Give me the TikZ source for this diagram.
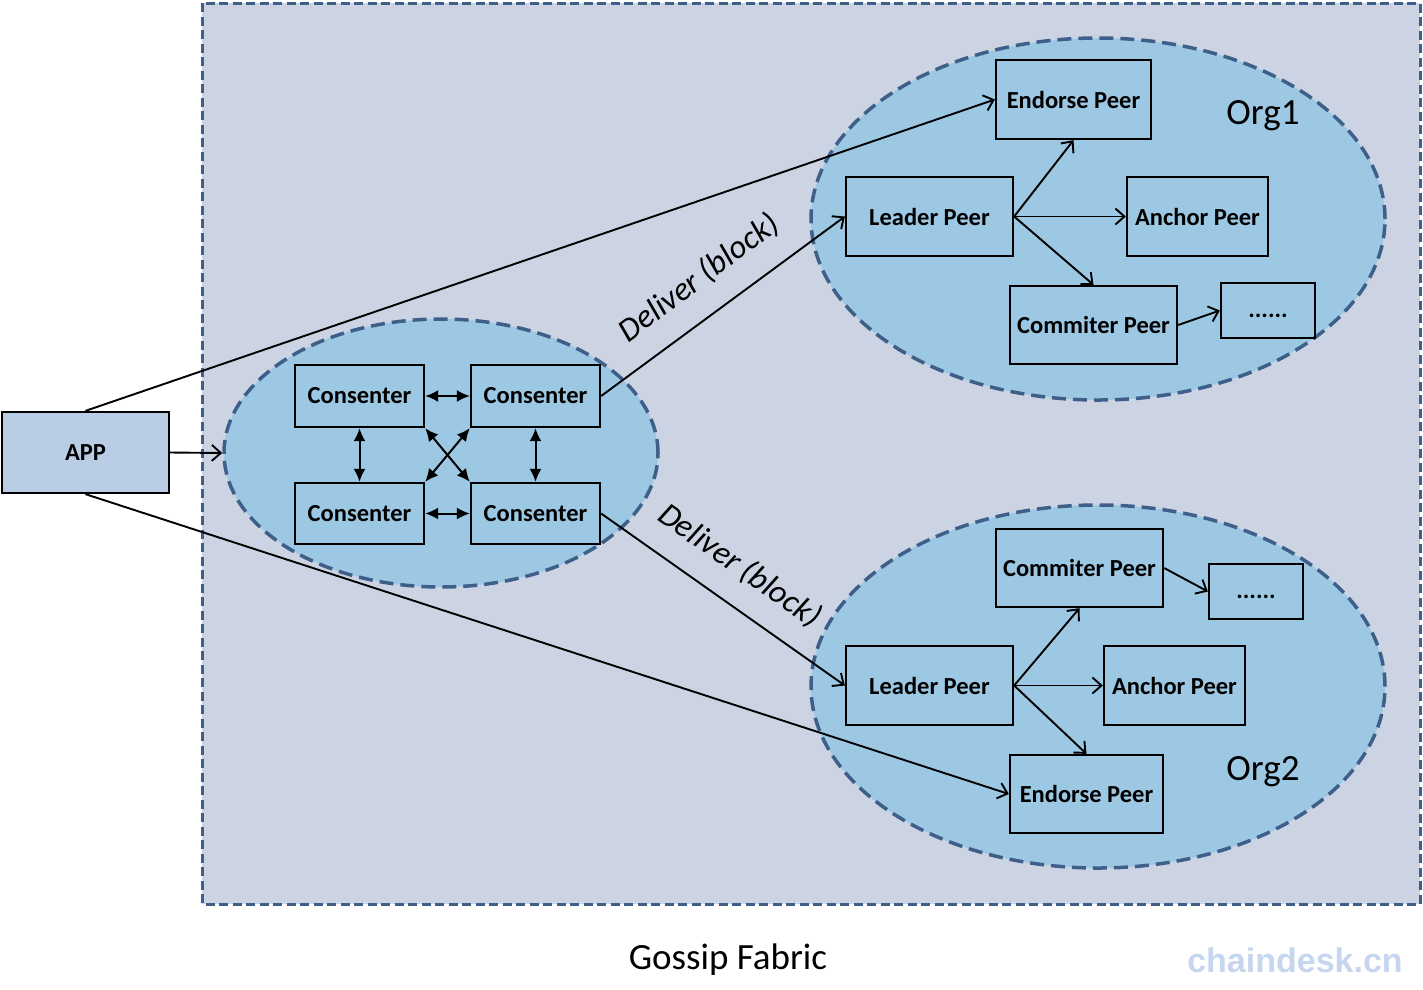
\documentclass[tikz,border=0pt]{standalone}
\usepackage{fontspec}
\setmainfont{Carlito}
\newfontfamily\wmfont{Liberation Sans}
\usetikzlibrary{shapes.geometric,arrows.meta}
\definecolor{outerfill}{HTML}{CCD3E2}
\definecolor{ellfill}{HTML}{9CC8E3}
\definecolor{appfill}{HTML}{B9CDE5}
\definecolor{dashcol}{HTML}{3F5F8B}
\definecolor{wmcol}{HTML}{C6D6EE}
\tikzset{
  box/.style={draw=black, line width=2.3pt, inner sep=0pt, font=\fontsize{24.5}{28}\selectfont\bfseries},
  org/.style={ellipse, draw=dashcol, fill=ellfill, line width=3.5pt, dash pattern=on 14pt off 7pt, inner sep=0pt},
  oarr/.style={line width=1.9pt, -{Straight Barb[length=9pt,width=16pt,line width=1.9pt]}},
  carr/.style={line width=2pt, {Latex[length=13pt,width=12pt]}-{Latex[length=13pt,width=12pt]}},
  lbl/.style={font=\fontsize{33}{36}\selectfont\itshape},
  big/.style={font=\fontsize{37}{40}\selectfont}
}
\newcommand{\mydots}{\smash{\raisebox{-7pt}{......}}}
\begin{document}
\begin{tikzpicture}[x=1pt,y=-1pt]
\useasboundingbox (0,0) rectangle (1423,989);
\fill[white] (0,0) rectangle (1423,989);
% outer gossip area
\draw[fill=outerfill, draw=dashcol, line width=3pt, dash pattern=on 9pt off 4.5pt] (202,3) rectangle (1420,904);
% ellipses
\node[org, minimum width=434pt, minimum height=268pt] (cons) at (441,453) {};
\node[org, minimum width=574pt, minimum height=362pt] (org1) at (1098,219) {};
\node[org, minimum width=574pt, minimum height=363pt] (org2) at (1098,686.5) {};
% APP
\node[box, fill=appfill, minimum width=167pt, minimum height=81pt] (app) at (85.5,452.5) {APP};
% consenters
\node[box, minimum width=129pt, minimum height=62pt] (c1) at (359.5,396) {Consenter};
\node[box, minimum width=129pt, minimum height=62pt] (c2) at (535.5,396) {Consenter};
\node[box, minimum width=129pt, minimum height=61pt] (c3) at (359.5,513.5) {Consenter};
\node[box, minimum width=129pt, minimum height=61pt] (c4) at (535.5,513.5) {Consenter};
% org1
\node[box, minimum width=155pt, minimum height=79pt] (e1) at (1073.5,99.5) {Endorse Peer};
\node[box, minimum width=167pt, minimum height=79pt] (l1) at (929.5,216.5) {Leader Peer};
\node[box, minimum width=141pt, minimum height=79pt] (a1) at (1197.5,216.5) {Anchor Peer};
\node[box, minimum width=167pt, minimum height=78pt] (m1) at (1093.5,325) {Commiter Peer};
\node[box, minimum width=94pt, minimum height=55pt] (d1) at (1268,310.5) {\mydots};
% org2
\node[box, minimum width=167pt, minimum height=78pt] (m2) at (1079.5,568) {Commiter Peer};
\node[box, minimum width=94pt, minimum height=55pt] (d2) at (1256,591.5) {\mydots};
\node[box, minimum width=167pt, minimum height=79pt] (l2) at (929.5,685.5) {Leader Peer};
\node[box, minimum width=141pt, minimum height=79pt] (a2) at (1174.5,685.5) {Anchor Peer};
\node[box, minimum width=153pt, minimum height=78pt] (e2) at (1086.5,794) {Endorse Peer};
% labels
\node[big] (o1) at (1263,116) {Org1};
\node[big] (o2) at (1263,772) {Org2};
\node[big] (gf) at (728,960) {Gossip Fabric};
\node[font=\wmfont\fontsize{34}{36}\selectfont\bfseries, text=wmcol] (wm) at (1295,960) {chaindesk.cn};
\node[lbl, rotate=37] (dl1) at (699,278) {Deliver (block)};
\node[lbl, rotate=-35] (dl2) at (740,566) {Deliver (block)};
% consenter arrows
\draw[carr] (c1.east) -- (c2.west);
\draw[carr] (c3.east) -- (c4.west);
\draw[carr] (c1.south) -- (c3.north);
\draw[carr] (c2.south) -- (c4.north);
\draw[carr] (c1.south east) -- (c4.north west);
\draw[carr] (c2.south west) -- (c3.north east);
% open arrows
\draw[oarr] (app.east) -- (cons.west);
\draw[oarr] (app.north) -- (e1.west);
\draw[oarr] (app.south) -- (e2.west);
\draw[oarr] (c2.east) -- (l1.west);
\draw[oarr] (c4.east) -- (l2.west);
\draw[oarr] (l1.east) -- (e1.south);
\draw[oarr] (l1.east) -- (a1.west);
\draw[oarr] (l1.east) -- (m1.north);
\draw[oarr] (m1.east) -- (d1.west);
\draw[oarr] (l2.east) -- (m2.south);
\draw[oarr] (l2.east) -- (a2.west);
\draw[oarr] (l2.east) -- (e2.north);
\draw[oarr] (m2.east) -- (d2.west);
\end{tikzpicture}
\end{document}
